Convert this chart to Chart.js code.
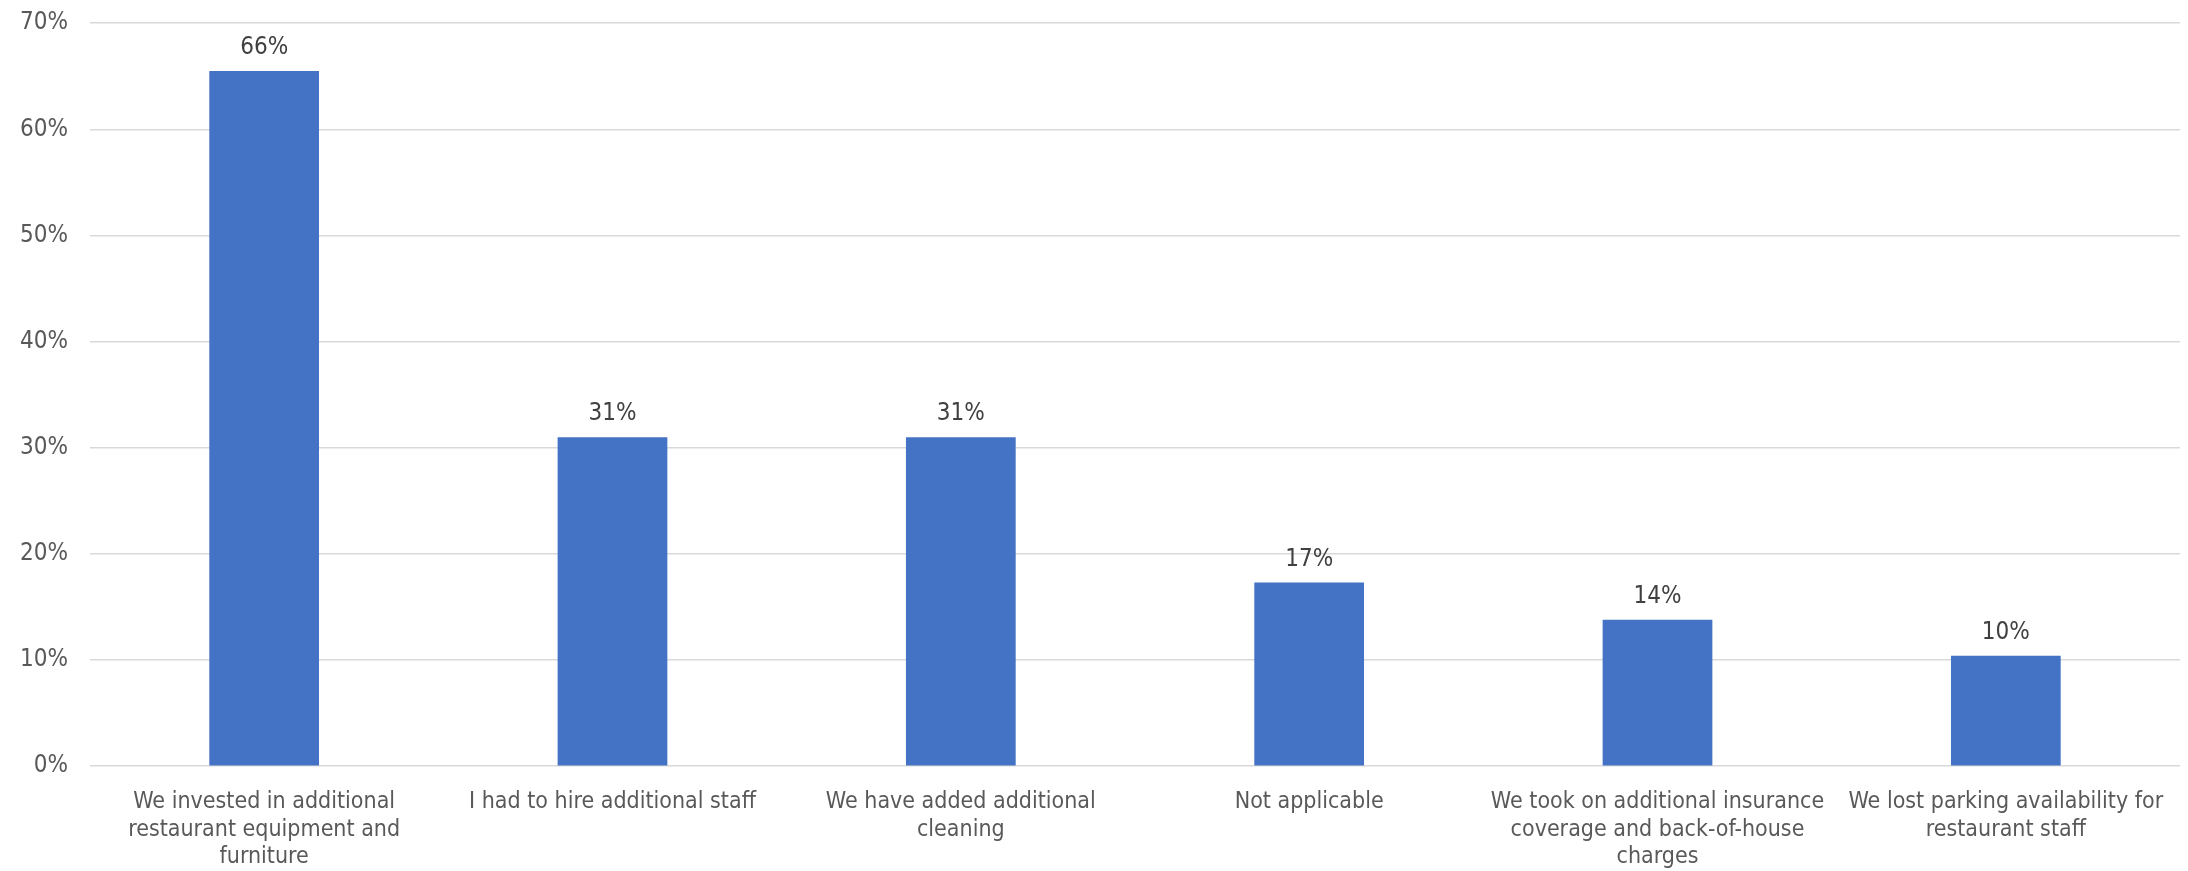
<!DOCTYPE html>
<html>
<head>
<meta charset="utf-8">
<script src="https://cdn.jsdelivr.net/npm/chart.js@4"></script>
<style>
  html, body { margin: 0; padding: 0; background: #fff; }
  #wrap { width: 2188px; height: 871px; position: relative; }
</style>
</head>
<body>
<div id="wrap"><canvas id="grafico"></canvas></div>
<script>
// categorias (quebradas em linhas como no original)
const categorias = [
    ['We invested in additional', 'restaurant equipment and', 'furniture'],
    'I had to hire additional staff',
    ['We have added additional', 'cleaning'],
    'Not applicable',
    ['We took on additional insurance', 'coverage and back-of-house', 'charges'],
    ['We lost parking availability for', 'restaurant staff']
];

// valores em %
const valores = [65.5, 31.0, 31.0, 17.3, 13.8, 10.4];

// rótulos mostrados acima das barras
const rotulos = ['66%', '31%', '31%', '17%', '14%', '10%'];

const fonte = '"DejaVu Sans Condensed", "DejaVu Sans", sans-serif';

// plugin simples para escrever o rótulo em cima de cada barra
const rotuloBarras = {
    id: 'rotuloBarras',
    afterDatasetsDraw(chart) {
        const ctx = chart.ctx;
        const meta = chart.getDatasetMeta(0);
        ctx.save();
        ctx.font = '24px ' + fonte;
        ctx.fillStyle = '#404040';
        ctx.textAlign = 'center';
        ctx.textBaseline = 'bottom';
        meta.data.forEach((barra, i) => {
            ctx.fillText(rotulos[i], barra.x, barra.y - 11);
        });
        ctx.restore();
    }
};

const ctx = document.getElementById('grafico').getContext('2d');

new Chart(ctx, {
    type: 'bar',
    data: {
        labels: categorias,
        datasets: [{
            data: valores,
            backgroundColor: '#4472c4',
            categoryPercentage: 1.0,
            barPercentage: 0.315
        }]
    },
    options: {
        responsive: true,
        maintainAspectRatio: false,
        animation: false,
        layout: {
            padding: { top: 0, right: 8, left: -2, bottom: -14 }
        },
        plugins: {
            legend: { display: false },
            tooltip: { enabled: false }
        },
        scales: {
            x: {
                grid: { display: false },
                border: { display: false },
                ticks: {
                    color: '#595959',
                    font: { family: fonte, size: 23, lineHeight: 1.2 },
                    maxRotation: 0,
                    autoSkip: false,
                    padding: 14
                }
            },
            y: {
                min: 0,
                max: 70,
                grid: { color: '#d9d9d9', lineWidth: 1.5, drawTicks: false },
                border: { display: false },
                ticks: {
                    stepSize: 10,
                    color: '#595959',
                    font: { family: fonte, size: 24, lineHeight: 0.1 },
                    padding: 22,
                    callback: v => v + '%'
                }
            }
        }
    },
    plugins: [rotuloBarras]
});
</script>
</body>
</html>
